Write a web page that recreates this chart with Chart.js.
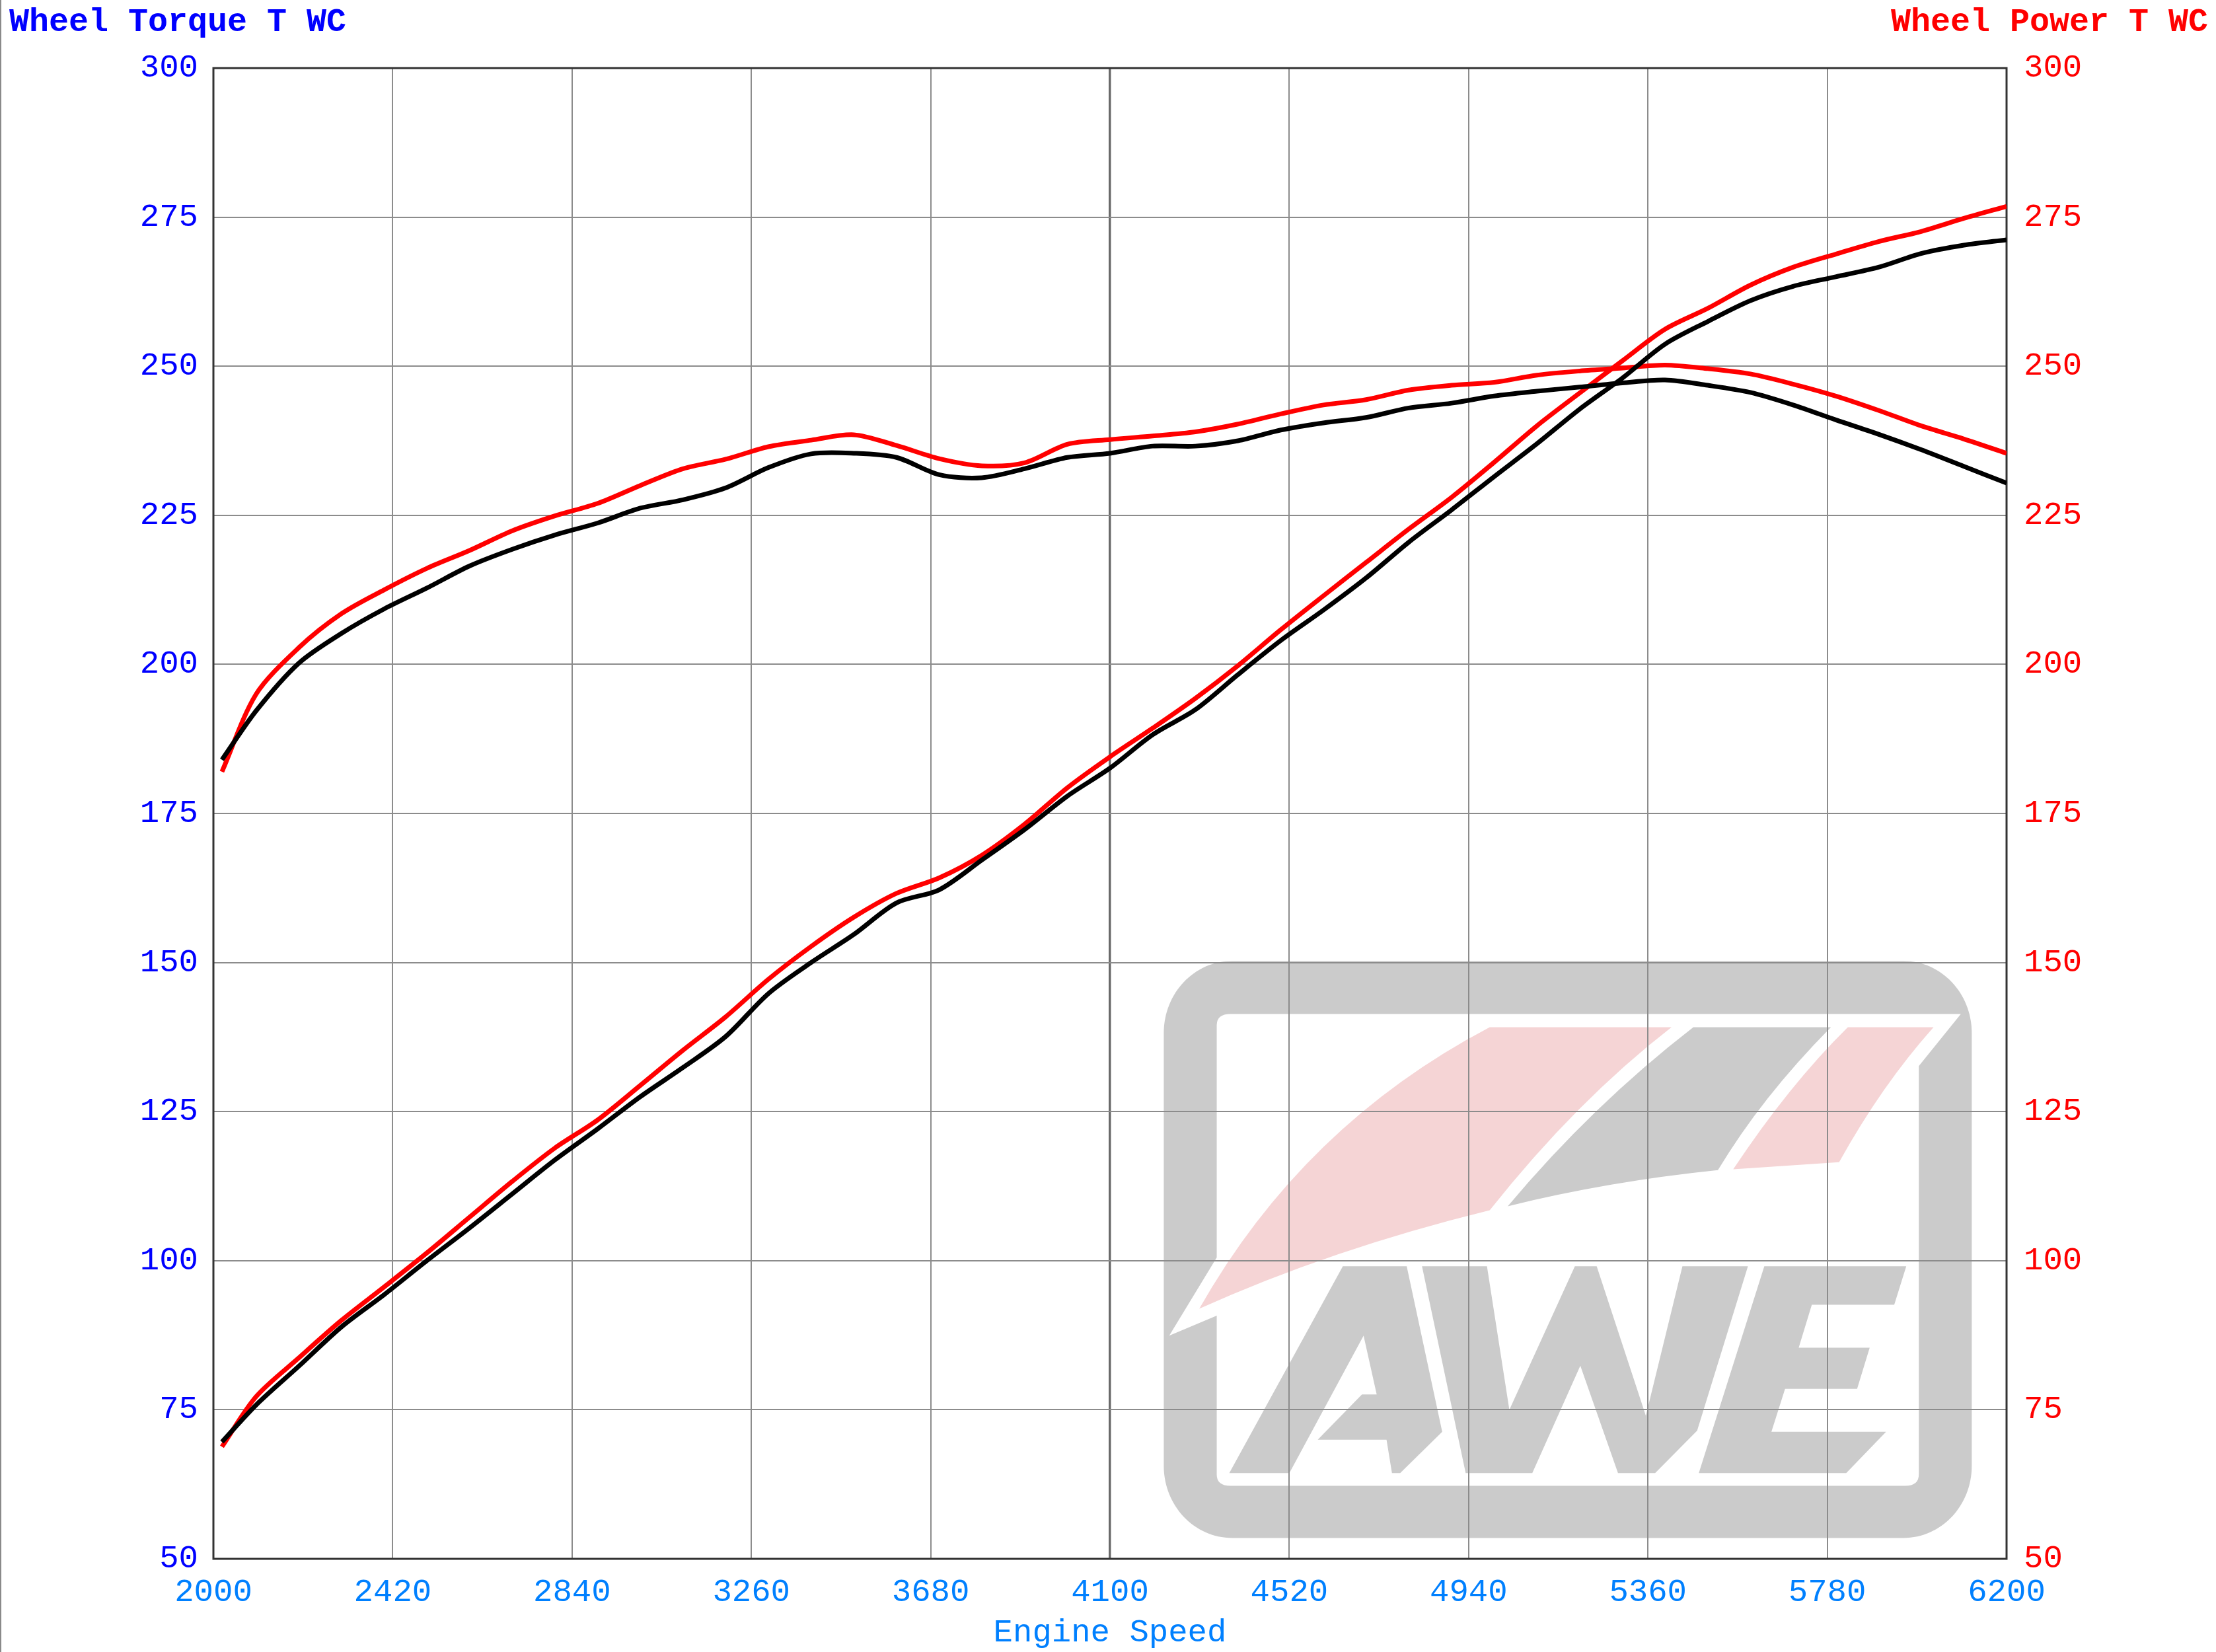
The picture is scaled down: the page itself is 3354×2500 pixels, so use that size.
<!DOCTYPE html>
<html>
<head>
<meta charset="utf-8">
<title>Wheel Torque / Wheel Power</title>
<script src="https://cdn.jsdelivr.net/npm/chart.js@4/dist/chart.umd.min.js"></script>
<style>
  html, body { margin: 0; padding: 0; background: #fff; }
  canvas { display: block; }
</style>
</head>
<body>
<canvas id="dyno" width="3354" height="2500"></canvas>
<script>
// engine speed (rpm)
var rpm = [2020, 2100, 2200, 2300, 2400, 2500, 2600, 2700, 2800, 2900,
           3000, 3100, 3200, 3300, 3400, 3500, 3600, 3700, 3800, 3900,
           4000, 4100, 4200, 4300, 4400, 4500, 4600, 4700, 4800, 4900,
           5000, 5100, 5200, 5300, 5400, 5500, 5600, 5700, 5800, 5900,
           6000, 6100, 6200];

// black run
var torqueBlack = [184.0, 192.2, 200.2, 205.2, 209.3, 212.8, 216.5, 219.3, 221.7, 223.7,
                   226.2, 227.6, 229.6, 233.0, 235.3, 235.4, 234.7, 231.8, 231.3, 232.8,
                   234.7, 235.4, 236.6, 236.6, 237.5, 239.3, 240.5, 241.4, 243.0, 243.8,
                   245.0, 245.8, 246.5, 247.2, 247.7, 246.8, 245.6, 243.5, 241.0, 238.6,
                   236.0, 233.2, 230.4];
var powerBlack = [69.6, 75.8, 82.3, 88.9, 94.3, 100.0, 105.5, 111.2, 116.9, 122.1,
                  127.5, 132.4, 137.6, 144.8, 150.0, 154.7, 160.0, 162.2, 167.2, 172.3,
                  177.9, 182.6, 188.2, 192.4, 198.3, 204.0, 209.1, 214.5, 220.5, 225.9,
                  231.5, 237.0, 242.8, 248.0, 253.7, 257.5, 261.0, 263.4, 265.0, 266.6,
                  268.9, 270.3, 271.2];

// red run
var torqueRed = [182.0, 195.0, 202.8, 208.5, 212.5, 216.1, 219.1, 222.4, 224.9, 227.0,
                 230.0, 232.8, 234.4, 236.5, 237.6, 238.5, 236.7, 234.5, 233.3, 233.8,
                 236.9, 237.7, 238.3, 239.0, 240.3, 242.0, 243.5, 244.4, 246.0, 246.8,
                 247.3, 248.5, 249.2, 249.7, 250.2, 249.6, 248.7, 247.0, 245.0, 242.6,
                 240.0, 237.8, 235.4];
var powerRed = [68.8, 77.2, 83.7, 90.0, 95.6, 101.3, 107.3, 113.3, 118.9, 123.6,
                129.4, 135.3, 140.9, 147.2, 152.7, 157.6, 161.6, 164.2, 168.0, 173.2,
                179.3, 184.5, 189.3, 194.3, 199.8, 205.8, 211.5, 217.1, 222.7, 228.0,
                233.9, 240.0, 245.5, 250.9, 256.2, 259.7, 263.6, 266.6, 268.8, 270.9,
                272.6, 274.8, 276.8];

// axes
var rpmMin = 2000, rpmMax = 6200, rpmStep = 420;
var valMin = 50, valMax = 300, valStep = 25;

var FONT = '"Liberation Mono", "Courier New", monospace';

function pts(vals) {
    return rpm.map(function (r, i) { return { x: r, y: vals[i] }; });
}

// AWE watermark, drawn in a 1480 x 1440 frame (origin 75,90)
function rr(ctx, x, y, w, h, rx, ry) {
    var k = 0.5523;
    ctx.moveTo(x + rx, y);
    ctx.lineTo(x + w - rx, y);
    ctx.bezierCurveTo(x + w - rx + rx * k, y, x + w, y + ry - ry * k, x + w, y + ry);
    ctx.lineTo(x + w, y + h - ry);
    ctx.bezierCurveTo(x + w, y + h - ry + ry * k, x + w - rx + rx * k, y + h, x + w - rx, y + h);
    ctx.lineTo(x + rx, y + h);
    ctx.bezierCurveTo(x + rx - rx * k, y + h, x, y + h - ry + ry * k, x, y + h - ry);
    ctx.lineTo(x, y + ry);
    ctx.bezierCurveTo(x, y + ry - ry * k, x + rx - rx * k, y, x + rx, y);
    ctx.closePath();
}

function poly(ctx, p) {
    ctx.beginPath();
    ctx.moveTo(p[0], p[1]);
    for (var i = 2; i < p.length; i += 2) ctx.lineTo(p[i], p[i + 1]);
    ctx.closePath();
    ctx.fill();
}

function drawLogo(ctx, a) {
    var bx = a.left + a.width * 0.530, by = a.top + a.height * 0.599;
    var bw = a.width * 0.4506, bh = a.height * 0.387;
    var grey = '#cbcbcb', pink = '#f5d4d5';
    ctx.save();
    ctx.translate(bx, by);
    ctx.scale(bw / 1480, bh / 1440);
    ctx.translate(-75, -90);

    ctx.fillStyle = grey;
    ctx.beginPath(); rr(ctx, 75, 90, 1480, 1440, 125, 180); ctx.fill();

    // inner white panel with the two breakouts
    ctx.fillStyle = '#ffffff';
    ctx.beginPath();
    ctx.moveTo(197, 222);
    ctx.lineTo(1535, 222);
    ctx.lineTo(1458, 352);
    ctx.lineTo(1458, 1372);
    ctx.quadraticCurveTo(1458, 1400, 1433, 1400);
    ctx.lineTo(197, 1400);
    ctx.quadraticCurveTo(172, 1400, 172, 1372);
    ctx.lineTo(172, 975);
    ctx.lineTo(85, 1025);
    ctx.lineTo(172, 830);
    ctx.lineTo(172, 250);
    ctx.quadraticCurveTo(172, 222, 197, 222);
    ctx.closePath();
    ctx.fill();

    // swoosh stripes
    ctx.fillStyle = pink;
    ctx.beginPath();
    ctx.moveTo(672, 255); ctx.lineTo(1005, 255);
    ctx.quadraticCurveTo(830, 440, 672, 712);
    ctx.quadraticCurveTo(380, 810, 140, 958);
    ctx.quadraticCurveTo(330, 500, 672, 255);
    ctx.closePath(); ctx.fill();

    ctx.fillStyle = grey;
    ctx.beginPath();
    ctx.moveTo(1045, 255); ctx.lineTo(1297, 255);
    ctx.quadraticCurveTo(1170, 430, 1090, 612);
    ctx.quadraticCurveTo(890, 640, 705, 702);
    ctx.quadraticCurveTo(860, 450, 1045, 255);
    ctx.closePath(); ctx.fill();

    ctx.fillStyle = pink;
    ctx.beginPath();
    ctx.moveTo(1328, 255); ctx.lineTo(1485, 255);
    ctx.quadraticCurveTo(1390, 400, 1312, 592);
    ctx.lineTo(1118, 610);
    ctx.quadraticCurveTo(1220, 400, 1328, 255);
    ctx.closePath(); ctx.fill();

    // letters
    ctx.fillStyle = grey;
    poly(ctx, [195, 1368, 403, 852, 520, 852, 585, 1265, 508, 1368, 493, 1368, 483, 1285,
               357, 1285, 438, 1172, 465, 1172, 441, 1025, 305, 1368]);
    poly(ctx, [548, 852, 667, 852, 708, 1210, 828, 852, 868, 852, 958, 1225, 1025, 852,
               1145, 852, 1052, 1262, 975, 1368, 907, 1368, 838, 1100, 750, 1368, 628, 1368]);
    poly(ctx, [1175, 852, 1435, 852, 1413, 948, 1262, 948, 1238, 1055, 1368, 1055, 1345, 1158,
               1213, 1158, 1188, 1265, 1398, 1265, 1325, 1368, 1055, 1368]);
    ctx.restore();
}

var decor = {
    id: 'decor',
    beforeDraw: function (chart) {
        var ctx = chart.ctx;
        ctx.save();
        ctx.fillStyle = '#ffffff';
        ctx.fillRect(0, 0, chart.width, chart.height);
        ctx.fillStyle = '#8a8a8a';
        ctx.fillRect(0, 0, 2, chart.height);
        drawLogo(ctx, chart.chartArea);
        ctx.restore();
    },
    beforeDatasetsDraw: function (chart) {
        var ctx = chart.ctx, a = chart.chartArea;
        ctx.save();
        ctx.strokeStyle = '#333333';
        ctx.lineWidth = 3;
        ctx.strokeRect(a.left, a.top, a.width, a.height);
        ctx.restore();
    },
    afterDraw: function (chart) {
        var ctx = chart.ctx;
        ctx.save();
        ctx.font = 'bold 50px ' + FONT;
        ctx.textBaseline = 'middle';
        ctx.fillStyle = '#0000ff';
        ctx.textAlign = 'left';
        ctx.fillText('Wheel Torque T WC', 14, 34);
        ctx.fillStyle = '#ff0000';
        ctx.textAlign = 'right';
        ctx.fillText('Wheel Power T WC', 3342, 34);
        ctx.restore();
    }
};

function gridColor(c) { return c.tick && c.tick.value === 4100 ? '#6a6a6a' : '#8c8c8c'; }
function gridWidth(c) { return c.tick && c.tick.value === 4100 ? 3.5 : 2; }

new Chart(document.getElementById('dyno'), {
    type: 'line',
    data: {
        datasets: [
            { label: 'Torque (black)', data: pts(torqueBlack), yAxisID: 'y', borderColor: '#000000' },
            { label: 'Power (black)', data: pts(powerBlack), yAxisID: 'y2', borderColor: '#000000' },
            { label: 'Torque (red)', data: pts(torqueRed), yAxisID: 'y', borderColor: '#ff0000' },
            { label: 'Power (red)', data: pts(powerRed), yAxisID: 'y2', borderColor: '#ff0000' }
        ]
    },
    options: {
        responsive: false,
        animation: false,
        layout: { padding: { top: 103, left: 0, right: 0, bottom: 0 } },
        elements: {
            line: { borderWidth: 7, tension: 0.3, fill: false },
            point: { radius: 0 }
        },
        plugins: { legend: { display: false }, tooltip: { enabled: false } },
        scales: {
            x: {
                type: 'linear',
                min: rpmMin, max: rpmMax,
                border: { display: false },
                grid: { color: gridColor, lineWidth: gridWidth, drawTicks: false },
                ticks: {
                    stepSize: rpmStep, autoSkip: false, maxRotation: 0, padding: 22,
                    color: '#0080ff', font: { family: FONT, size: 49 },
                    callback: function (v) { return String(v); }
                },
                title: {
                    display: true, text: 'Engine Speed', color: '#0080ff',
                    font: { family: FONT, size: 49 }, padding: { top: 0, bottom: 0 }
                },
                afterFit: function (s) { s.height = 141; }
            },
            y: {
                position: 'left',
                min: valMin, max: valMax,
                border: { display: false },
                grid: { color: '#8c8c8c', lineWidth: 2, drawTicks: false },
                ticks: {
                    stepSize: valStep, padding: 23,
                    color: '#0000ff', font: { family: FONT, size: 49 },
                    callback: function (v) { return String(v); }
                },
                afterFit: function (s) { s.width = 323; }
            },
            y2: {
                position: 'right',
                min: valMin, max: valMax,
                border: { display: false },
                grid: { drawOnChartArea: false, drawTicks: false },
                ticks: {
                    stepSize: valStep, padding: 26,
                    color: '#ff0000', font: { family: FONT, size: 49 },
                    callback: function (v) { return String(v); }
                },
                afterFit: function (s) { s.width = 317; }
            }
        }
    },
    plugins: [decor]
});
</script>
</body>
</html>
